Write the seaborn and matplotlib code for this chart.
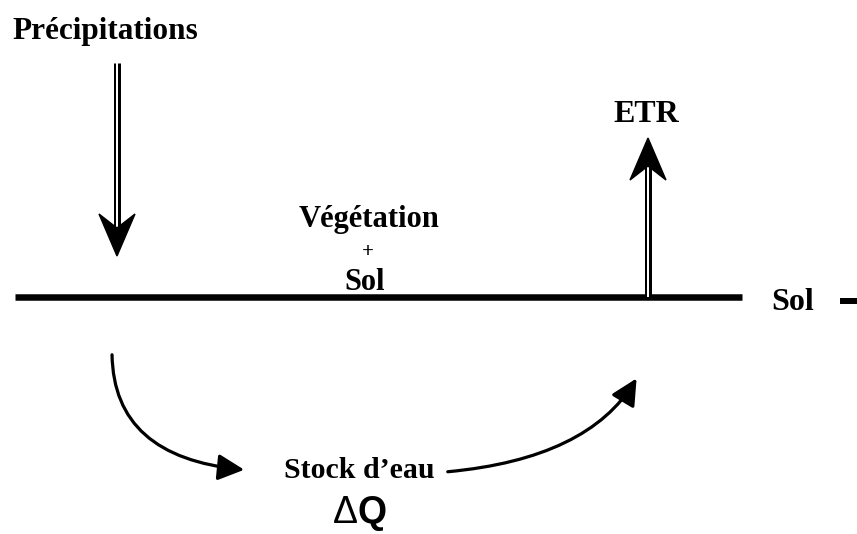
import matplotlib
matplotlib.use("Agg")
import matplotlib.pyplot as plt
from matplotlib.patches import FancyArrowPatch, Polygon
import seaborn as sns

sns.set_theme(style="white")
plt.rcParams["font.family"] = ["Liberation Serif", "DejaVu Serif"]

# labels of the water balance diagram
top_label = "Précipitations"
out_label = "ETR"
middle_labels = ["Végétation", "+", "Sol"]
ground_label = "Sol"
store_label = "Stock d\u2019eau"
delta_label = ["\u0394", "Q"]

W, H = 857, 534
fig = plt.figure(figsize=(W / 100, H / 100), dpi=100)
ax = fig.add_axes([0, 0, 1, 1])
ax.set_xlim(0, W)
ax.set_ylim(H, 0)
ax.axis("off")

PX = 72 / 100  # points per pixel


def double_arrow(x, y0, y1):
    # shaft: black line with a thin white core, then a notched head
    d = 1 if y1 > y0 else -1
    hl, hw, notch = 42, 18, 14
    ax.plot([x, x], [y0, y1 - d * hl + d * notch], color="black",
            lw=7 * PX, solid_capstyle="butt", zorder=2)
    ax.plot([x, x], [y0 - d * 1, y1 - d * hl + d * notch], color="white",
            lw=2 * PX, solid_capstyle="butt", zorder=3)
    head = Polygon([(x, y1), (x - hw, y1 - d * hl), (x, y1 - d * (hl - notch)),
                    (x + hw, y1 - d * hl)], closed=True, color="black", zorder=4)
    ax.add_patch(head)


double_arrow(117, 63, 256)
double_arrow(648, 296, 138)

# ground line
ax.plot([15, 742], [297, 297], color="black", lw=6.5 * PX, solid_capstyle="butt")
ax.plot([840, 857], [301, 301], color="black", lw=6 * PX, solid_capstyle="butt")

bold = dict(fontweight="bold", ha="center", va="center", color="black")
ax.text(105, 31, top_label, fontsize=22.5, **bold)
ax.text(646, 115, out_label, fontsize=23, **bold)
ax.text(369, 220, middle_labels[0], fontsize=22, **bold)
ax.text(368, 252, middle_labels[1], fontsize=15, **bold)
ax.text(365, 282, middle_labels[2], fontsize=22, **bold)
ax.text(793, 302, ground_label, fontsize=23, **bold)
ax.text(359, 470, store_label, fontsize=21.5, **bold)
sans = ["Liberation Sans", "DejaVu Sans"]
ax.text(358, 513, delta_label[0], fontsize=27, ha="right", va="center",
        family=sans, color="black")
ax.text(358, 513, delta_label[1], fontsize=27, ha="left", va="center",
        family=sans, fontweight="bold", color="black")

curve_style = dict(arrowstyle="-|>,head_length=1.0,head_width=0.5",
                   mutation_scale=16, color="black", lw=3.2 * PX)
left = FancyArrowPatch((112, 352), (247, 470),
                       connectionstyle="angle3,angleA=90,angleB=-5", **curve_style)
right = FancyArrowPatch((445, 472), (638, 376),
                        connectionstyle="angle3,angleA=5,angleB=60", **curve_style)
ax.add_patch(left)
ax.add_patch(right)

fig.savefig("out.png", dpi=100)
